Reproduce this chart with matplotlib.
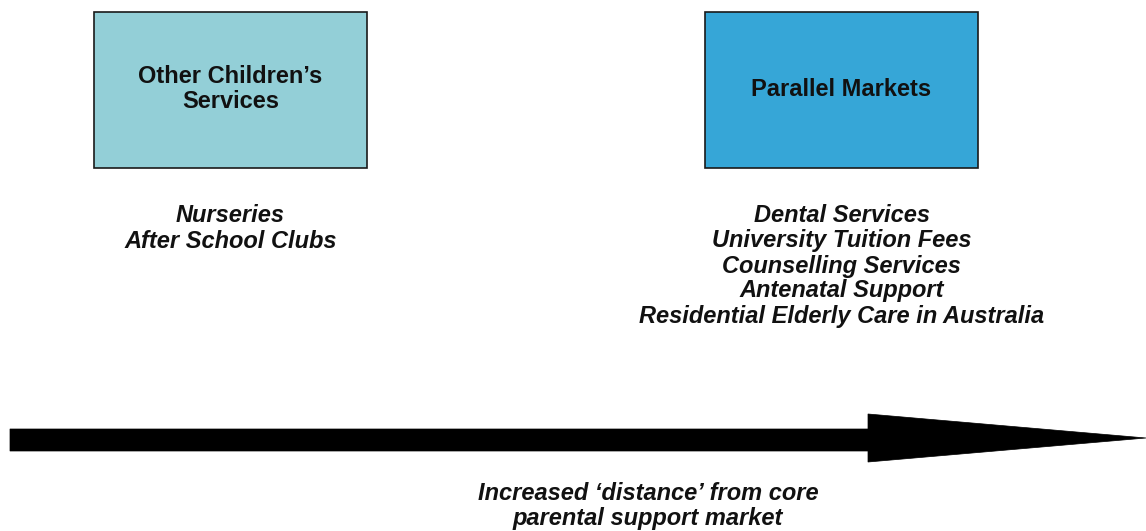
import matplotlib.pyplot as plt
from matplotlib.patches import Rectangle, Polygon

plt.rcParams['font.family'] = ['Liberation Sans', 'DejaVu Sans']

# content
box_labels = ["Other Children\u2019s\nServices", "Parallel Markets"]
box_colors = ["#93CFD7", "#36A6D7"]
left_items = ["Nurseries", "After School Clubs"]
right_items = ["Dental Services", "University Tuition Fees",
               "Counselling Services", "Antenatal Support",
               "Residential Elderly Care in Australia"]
arrow_caption = ["Increased \u2018distance\u2019 from core", "parental support market"]

W, H = 1146, 531
FS = 17
fig = plt.figure(figsize=(W / 100, H / 100), dpi=100)
ax = fig.add_axes([0, 0, 1, 1])
ax.set_xlim(0, W)
ax.set_ylim(H, 0)
ax.axis('off')

line_h = 25

# boxes (pixel layout)
box_x = [94, 705]
box_w, box_top, box_h = 273, 12, 156
for x, lab, col in zip(box_x, box_labels, box_colors):
    ax.add_patch(Rectangle((x, box_top), box_w, box_h, facecolor=col,
                           edgecolor='#1a1a1a', linewidth=1.2))
    lines = lab.split('\n')
    y0 = box_top + box_h / 2 - 1 - (len(lines) - 1) * line_h / 2
    for i, ln in enumerate(lines):
        ax.text(x + box_w / 2, y0 + i * line_h, ln, ha='center', va='center',
                fontsize=FS, fontweight='bold', color='#111111')

# item lists under each box
for x, items in zip(box_x, [left_items, right_items]):
    for i, item in enumerate(items):
        ax.text(x + box_w / 2, 216 + i * line_h, item, ha='center', va='center',
                fontsize=FS, fontweight='bold', style='italic', color='#111111')

# big arrow
shaft_top, shaft_bot = 429, 451
head_x, head_top, head_bot = 868, 414, 462
tip_x, tip_y = 1146, 438
arrow_pts = [(10, shaft_top), (head_x, shaft_top), (head_x, head_top),
             (tip_x, tip_y), (head_x, head_bot), (head_x, shaft_bot),
             (10, shaft_bot)]
ax.add_patch(Polygon(arrow_pts, closed=True, facecolor='black',
                     edgecolor='black', linewidth=0.5))

for i, ln in enumerate(arrow_caption):
    ax.text(648, 493 + i * line_h, ln, ha='center', va='center', fontsize=FS,
            fontweight='bold', style='italic', color='#111111')

fig.savefig('out.png', dpi=100)
